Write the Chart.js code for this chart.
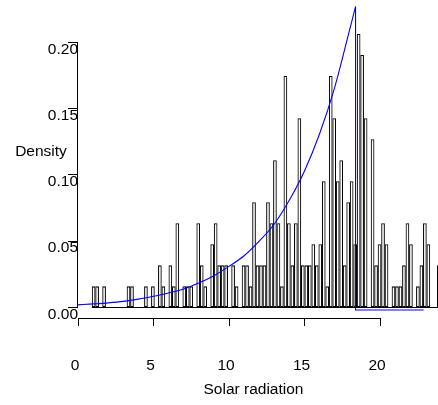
<!DOCTYPE html>
<html>
<head>
<meta charset="utf-8">
<script src="https://cdn.jsdelivr.net/npm/chart.js@4.4.1/dist/chart.umd.min.js"></script>
<style>html,body{margin:0;padding:0;background:#fff}canvas{display:block}</style>
</head>
<body>
<canvas id="c" width="438" height="405"></canvas>
<script>
// ---- data ----
const binStart = 0.92;          // left edge of first histogram bin
const binWidth = 0.2309;        // width of each bin
const counts = [
  1,1,0,1,0,0,0,0,0,0,
  1,1,0,0,0,1,0,1,0,2,
  1,0,2,1,4,0,1,1,1,0,
  4,2,1,0,3,4,2,2,2,0,
  2,1,0,2,2,1,5,2,2,2,
  5,4,7,4,1,11,4,2,4,9,
  2,2,2,3,2,3,6,1,11,9,
  6,7,2,5,6,3,13,12,9,0,
  8,2,3,4,3,0,1,1,1,2,
  4,3,0,1,2,4,3,0,0,2
];
const densityPerCount = 0.01586; // height of one observation on the density axis

const curveX = [0,1,2,3,4,5,6,7,8,9,10,11,12,13,14,15,16,17,18,18.38];
const curveY = [0.0020,0.0027,0.0035,0.0046,0.0063,0.0085,0.0110,0.0140,0.0185,0.0240,
                0.0310,0.0390,0.0500,0.0630,0.0810,0.1030,0.1310,0.1660,0.2100,0.2270];
const dropX = [18.38, 18.38, 22.89];
const dropY = [0.2270, -0.0019, -0.0019];

const xTicks = [0, 5, 10, 15, 20];
const xTickLabels = ['0', '5', '10', '15', '20'];
const yTicks = [0, 0.05, 0.10, 0.15, 0.20];
const yTickLabels = ['0.00', '0.05', '0.10', '0.15', '0.20'];
const xTitle = 'Solar radiation';
const yTitle = 'Density';

// ---- build chart ----
const FONT = {family: '"Liberation Sans", Arial, sans-serif', size: 15.5};

const barData = counts.map((c, i) => ({x: binStart + (i + 0.5) * binWidth, y: c * densityPerCount}));
const baseData = [{x: binStart, y: 0}, {x: binStart + counts.length * binWidth, y: 0}];
const curveData = curveX.map((v, i) => ({x: v, y: curveY[i]}));
const dropData = dropX.map((v, i) => ({x: v, y: dropY[i]}));

const rAxes = {
  id: 'rAxes',
  afterDraw(chart) {
    const {ctx, chartArea} = chart;
    const x = chart.scales.x, y = chart.scales.y;
    ctx.save();
    ctx.strokeStyle = '#000';
    ctx.lineWidth = 1;
    ctx.beginPath();
    const ax = Math.round(chartArea.left) - 0.5;
    ctx.moveTo(ax, y.getPixelForValue(yTicks[yTicks.length - 1]));
    ctx.lineTo(ax, y.getPixelForValue(yTicks[0]));
    const ay = Math.round(chartArea.bottom) + 0.5;
    ctx.moveTo(x.getPixelForValue(xTicks[0]), ay);
    ctx.lineTo(x.getPixelForValue(xTicks[xTicks.length - 1]), ay);
    ctx.stroke();
    ctx.fillStyle = '#000';
    ctx.font = '15.5px "Liberation Sans", Arial, sans-serif';
    ctx.textAlign = 'center';
    ctx.textBaseline = 'alphabetic';
    ctx.fillText(yTitle, 41, 156);
    ctx.fillText(xTitle, 253.5, 393.5);
    ctx.restore();
  }
};

new Chart(document.getElementById('c'), {
  type: 'bar',
  data: {
    datasets: [
      {
        type: 'bar',
        data: barData,
        backgroundColor: 'rgba(0,0,0,0)',
        borderColor: '#000',
        borderWidth: 0.85,
        borderSkipped: false,
        inflateAmount: 0.1,
        barPercentage: 1,
        categoryPercentage: 1,
        order: 3
      },
      {
        type: 'line',
        data: baseData,
        borderColor: '#000',
        borderWidth: 1,
        pointRadius: 0,
        fill: false,
        order: 2
      },
      {
        type: 'line',
        data: curveData,
        borderColor: '#0000ff',
        borderWidth: 1.1,
        pointRadius: 0,
        fill: false,
        cubicInterpolationMode: 'monotone',
        order: 1
      },
      {
        type: 'line',
        data: dropData,
        borderColor: '#0000ff',
        borderWidth: 1.1,
        pointRadius: 0,
        fill: false,
        tension: 0,
        order: 0
      }
    ]
  },
  options: {
    responsive: false,
    animation: false,
    events: [],
    layout: {padding: 0},
    plugins: {legend: {display: false}, tooltip: {enabled: false}, title: {display: false}},
    scales: {
      x: {
        type: 'linear',
        min: 0,
        max: 23.84,
        offset: false,
        grid: {drawOnChartArea: false, drawTicks: true, tickLength: 8, color: '#000', offset: false},
        border: {display: false},
        ticks: {
          autoSkip: false, maxRotation: 0, minRotation: 0,
          padding: 30, labelOffset: -3, color: '#000', font: FONT,
          callback: (v, i) => xTickLabels[i]
        },
        afterBuildTicks: s => { s.ticks = xTicks.map(v => ({value: v})); },
        afterFit: s => { s.height = 87; }
      },
      y: {
        type: 'linear',
        min: -0.00792,
        max: 0.2319,
        grid: {drawOnChartArea: false, drawTicks: true, tickLength: 10, color: '#000'},
        border: {display: false},
        ticks: {
          padding: -10, labelOffset: 7, color: '#000', font: FONT,
          callback: (v, i) => yTickLabels[i]
        },
        afterBuildTicks: s => { s.ticks = yTicks.map(v => ({value: v})); },
        afterFit: s => { s.width = 78; }
      }
    }
  },
  plugins: [rAxes]
});
</script>
</body>
</html>
